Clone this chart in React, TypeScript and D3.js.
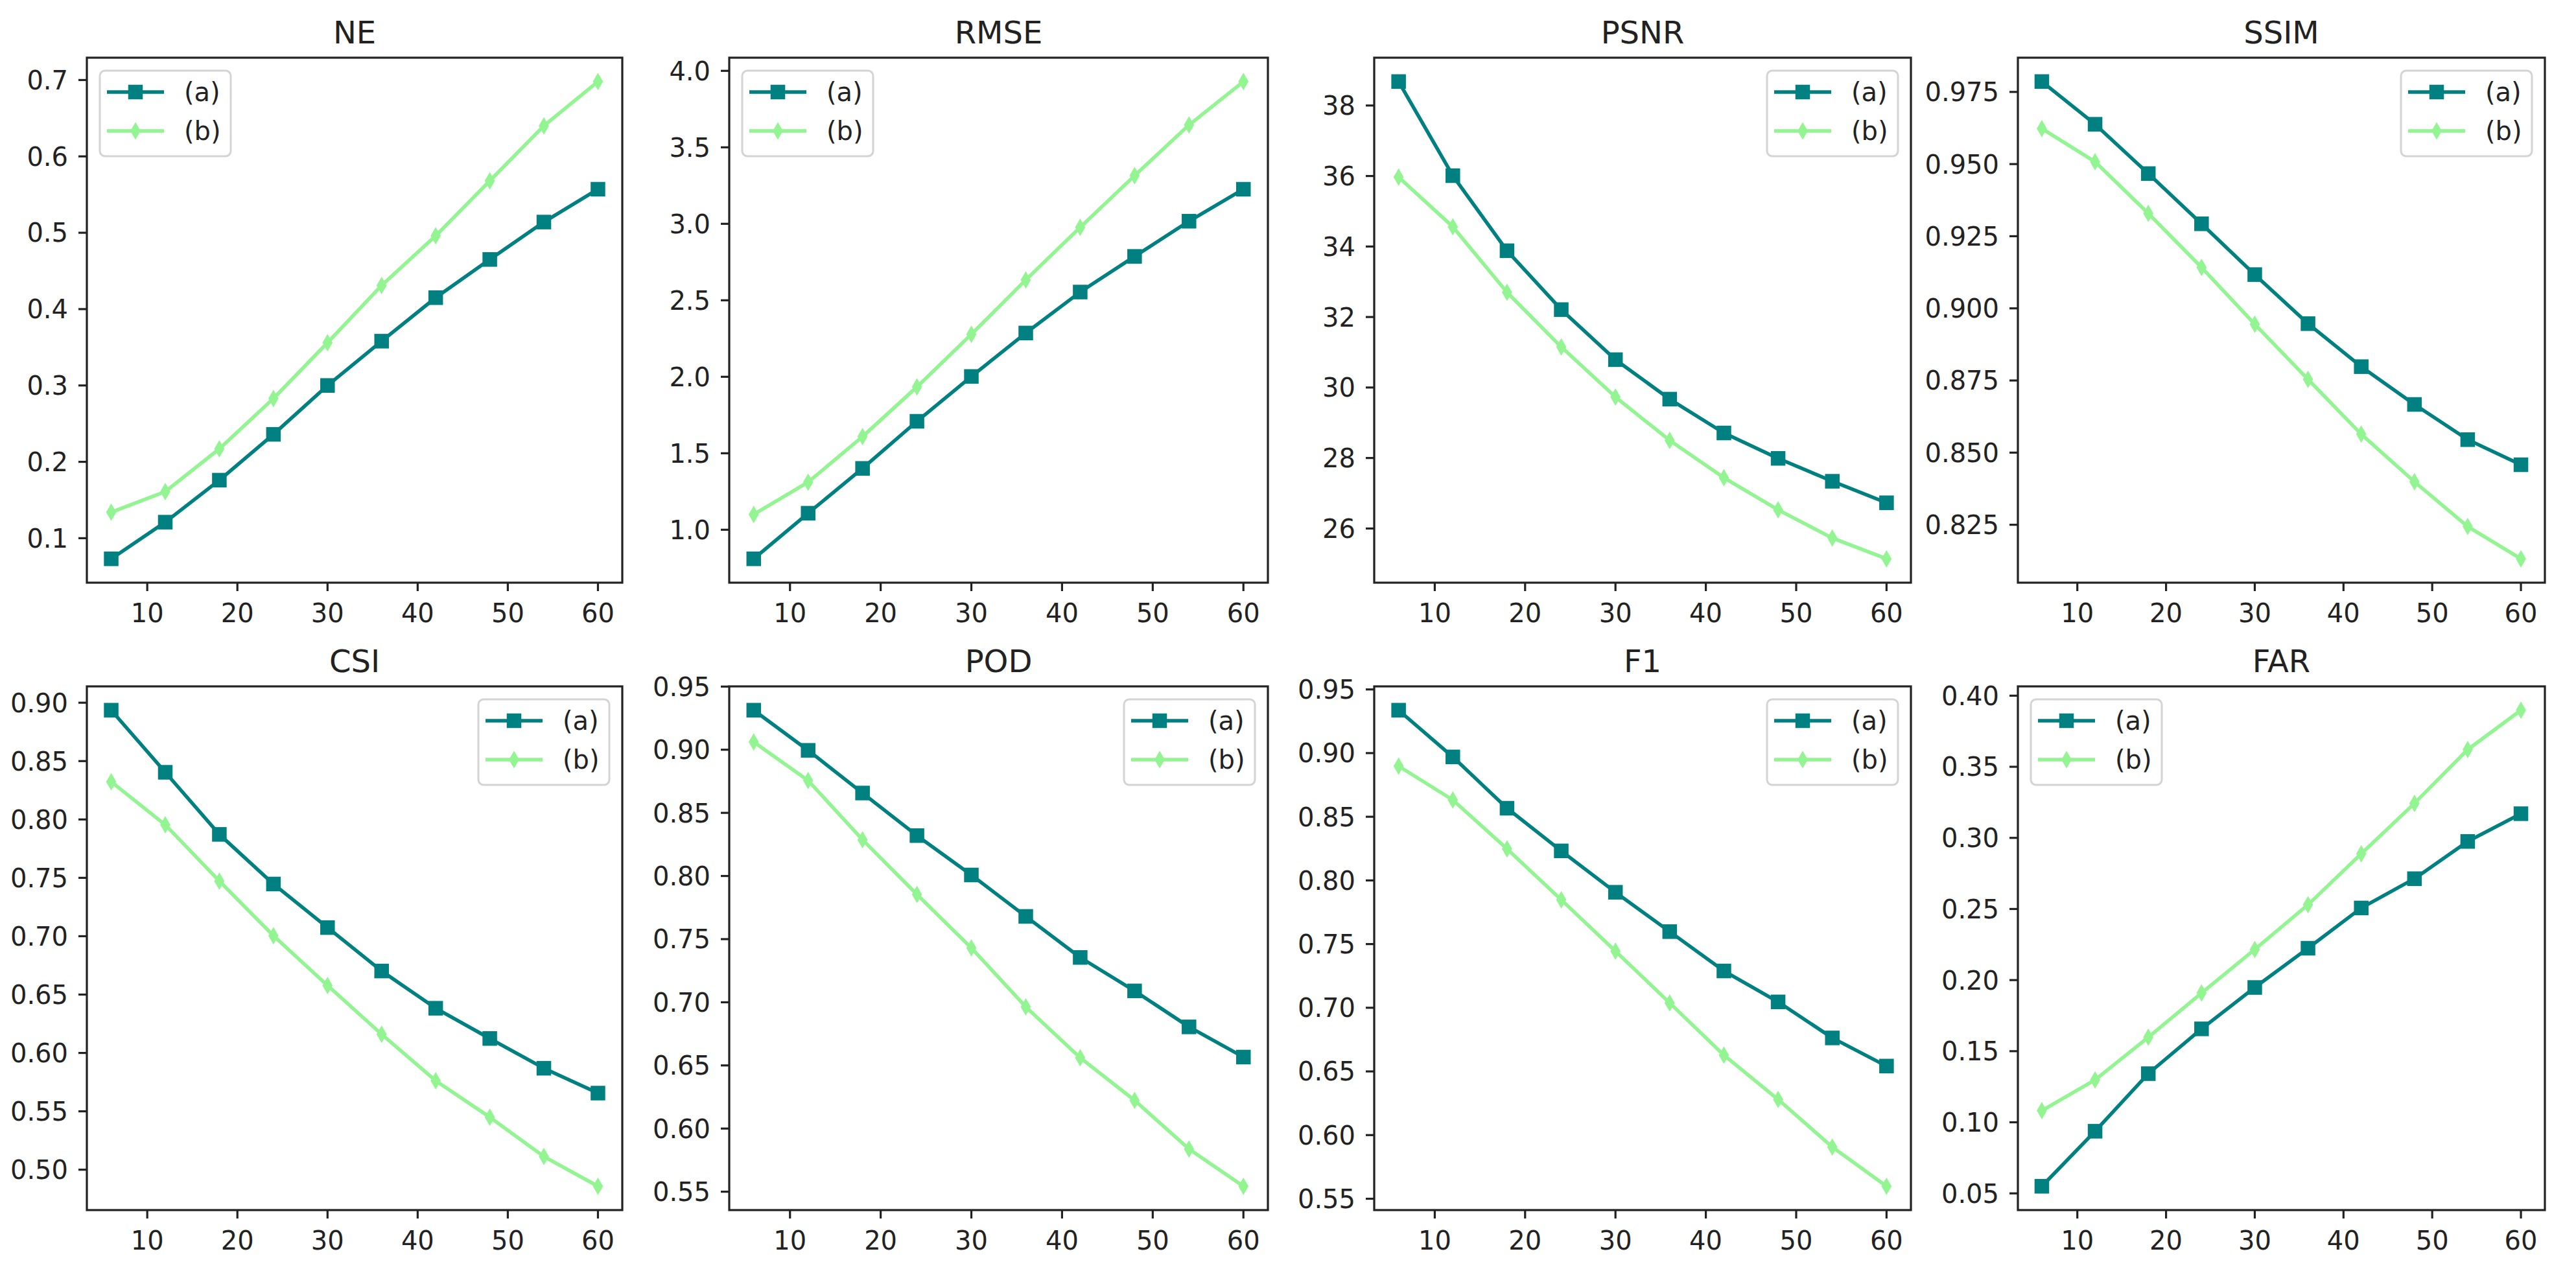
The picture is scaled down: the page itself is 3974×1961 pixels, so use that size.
import * as d3 from "d3";

// lead time (x axis)
const steps = [6, 12, 18, 24, 30, 36, 42, 48, 54, 60];
const xTicks = [10, 20, 30, 40, 50, 60];

const metrics = ["NE", "RMSE", "PSNR", "SSIM", "CSI", "POD", "F1", "FAR"];

const neA = [0.073, 0.121, 0.176, 0.236, 0.300, 0.358, 0.415, 0.465, 0.514, 0.557];
const neB = [0.134, 0.161, 0.217, 0.283, 0.356, 0.431, 0.496, 0.568, 0.640, 0.698];
const rmseA = [0.81, 1.108, 1.401, 1.709, 2.002, 2.286, 2.554, 2.787, 3.017, 3.226];
const rmseB = [1.10, 1.311, 1.609, 1.934, 2.278, 2.633, 2.977, 3.315, 3.646, 3.930];
const psnrA = [38.68, 36.01, 33.88, 32.21, 30.79, 29.67, 28.71, 27.99, 27.34, 26.73];
const psnrB = [35.97, 34.56, 32.70, 31.15, 29.73, 28.50, 27.44, 26.53, 25.73, 25.14];
const ssimA = [0.9786, 0.9638, 0.9467, 0.9293, 0.9117, 0.8947, 0.8798, 0.8667, 0.8545, 0.8458];
const ssimB = [0.9623, 0.9508, 0.9329, 0.9142, 0.8945, 0.8754, 0.8564, 0.8399, 0.8244, 0.8132];
const csiA = [0.8936, 0.8404, 0.7872, 0.7447, 0.7074, 0.6702, 0.6383, 0.6124, 0.5869, 0.5656];
const csiB = [0.8323, 0.7954, 0.7472, 0.7004, 0.6578, 0.6160, 0.5762, 0.5450, 0.5113, 0.4858];
const podA = [0.9313, 0.8995, 0.8657, 0.8320, 0.8008, 0.7680, 0.7355, 0.7090, 0.6805, 0.6566];
const podB = [0.9061, 0.8756, 0.8287, 0.7854, 0.7430, 0.6964, 0.6561, 0.6223, 0.5838, 0.5543];
const f1A = [0.9337, 0.8970, 0.8567, 0.8232, 0.7907, 0.7598, 0.7289, 0.7046, 0.6763, 0.6542];
const f1B = [0.8898, 0.8632, 0.8248, 0.7848, 0.7445, 0.7038, 0.6628, 0.6280, 0.5906, 0.5598];
const farA = [0.0550, 0.0937, 0.1342, 0.1657, 0.1948, 0.2224, 0.2507, 0.2713, 0.2975, 0.3170];
const farB = [0.1082, 0.1298, 0.1598, 0.1909, 0.2215, 0.2530, 0.2888, 0.3243, 0.3621, 0.3898];

const neTicks = [0.1, 0.2, 0.3, 0.4, 0.5, 0.6, 0.7];
const rmseTicks = [1.0, 1.5, 2.0, 2.5, 3.0, 3.5, 4.0];
const psnrTicks = [26, 28, 30, 32, 34, 36, 38];
const ssimTicks = [0.825, 0.85, 0.875, 0.9, 0.925, 0.95, 0.975];
const csiTicks = [0.5, 0.55, 0.6, 0.65, 0.7, 0.75, 0.8, 0.85, 0.9];
const podTicks = [0.55, 0.6, 0.65, 0.7, 0.75, 0.8, 0.85, 0.9, 0.95];
const f1Ticks = [0.55, 0.6, 0.65, 0.7, 0.75, 0.8, 0.85, 0.9, 0.95];
const farTicks = [0.05, 0.1, 0.15, 0.2, 0.25, 0.3, 0.35, 0.4];

const seriesNames = ["(a)", "(b)"];

const valuesA = [neA, rmseA, psnrA, ssimA, csiA, podA, f1A, farA];
const valuesB = [neB, rmseB, psnrB, ssimB, csiB, podB, f1B, farB];
const tickSets = [neTicks, rmseTicks, psnrTicks, ssimTicks, csiTicks, podTicks, f1Ticks, farTicks];
const tickDecimals = [1, 1, 0, 3, 2, 2, 2, 2];
const legendLeft = [true, true, false, false, false, false, false, true];

const W = 3974;
const H = 1961;
const colLeft = [134, 1125, 2120, 3113];
const colRight = [960, 1956, 2948, 3926];
const rowTop = [89, 1059];
const rowBottom = [899, 1867];

const TEAL = "#008080";
const GREEN = "#92F592";
const FONT = "DejaVu Sans, sans-serif";
const TXT = "#222";

function Square({ x, y }: { x: number; y: number }) {
  const s = 21;
  return <rect x={x - s / 2} y={y - s / 2} width={s} height={s} fill={TEAL} stroke={TEAL} strokeWidth={1.5} />;
}

function Diamond({ x, y }: { x: number; y: number }) {
  const h = 12, w = 7;
  return <path d={`M${x},${y - h}L${x + w},${y}L${x},${y + h}L${x - w},${y}Z`} fill={GREEN} stroke={GREEN} strokeWidth={1.5} />;
}

function Panel({ idx }: { idx: number }) {
  const col = idx % 4;
  const row = Math.floor(idx / 4);
  const left = colLeft[col], right = colRight[col];
  const top = rowTop[row], bottom = rowBottom[row];
  const a = valuesA[idx], b = valuesB[idx];

  const xPad = (d3.max(steps)! - d3.min(steps)!) * 0.05;
  const x = d3.scaleLinear().domain([d3.min(steps)! - xPad, d3.max(steps)! + xPad]).range([left, right]);
  const lo = Math.min(d3.min(a)!, d3.min(b)!);
  const hi = Math.max(d3.max(a)!, d3.max(b)!);
  const yPad = (hi - lo) * 0.05;
  const y = d3.scaleLinear().domain([lo - yPad, hi + yPad]).range([bottom, top]);

  const line = d3.line<number>().x((_, i) => x(steps[i])).y((d) => y(d));
  const fmt = d3.format(`.${tickDecimals[idx]}f`);

  const lgW = 202, lgH = 132;
  const lgX = legendLeft[idx] ? left + 20 : right - 20 - lgW;
  const lgY = top + 20;

  return (
    <g>
      <text x={(left + right) / 2} y={top - 22} textAnchor="middle" fontSize={48} fontFamily={FONT} fill={TXT}>
        {metrics[idx]}
      </text>
      {/* lines */}
      <path d={line(a)!} fill="none" stroke={TEAL} strokeWidth={5.5} strokeLinejoin="round" />
      {a.map((v, i) => <Square key={"a" + i} x={x(steps[i])} y={y(v)} />)}
      <path d={line(b)!} fill="none" stroke={GREEN} strokeWidth={5.5} strokeLinejoin="round" />
      {b.map((v, i) => <Diamond key={"b" + i} x={x(steps[i])} y={y(v)} />)}
      {/* frame */}
      <rect x={left} y={top} width={right - left} height={bottom - top} fill="none" stroke="#222" strokeWidth={3.2} />
      {/* x ticks */}
      {xTicks.map((t) => (
        <g key={"x" + t}>
          <line x1={x(t)} x2={x(t)} y1={bottom} y2={bottom + 13} stroke="#222" strokeWidth={3.2} />
          <text x={x(t)} y={bottom + 61} textAnchor="middle" fontSize={40} fontFamily={FONT} fill={TXT}>{t}</text>
        </g>
      ))}
      {/* y ticks */}
      {tickSets[idx].map((t) => (
        <g key={"y" + t}>
          <line x1={left - 13} x2={left} y1={y(t)} y2={y(t)} stroke="#222" strokeWidth={3.2} />
          <text x={left - 29} y={y(t)} dy="0.36em" textAnchor="end" fontSize={40} fontFamily={FONT} fill={TXT}>{fmt(t)}</text>
        </g>
      ))}
      {/* legend */}
      <g>
        <rect x={lgX} y={lgY} width={lgW} height={lgH} rx={8} fill="white" fillOpacity={0.8} stroke="#d4d4d4" strokeWidth={3} />
        <line x1={lgX + 11} x2={lgX + 99} y1={lgY + 33} y2={lgY + 33} stroke={TEAL} strokeWidth={5.5} />
        <Square x={lgX + 55} y={lgY + 33} />
        <text x={lgX + 130} y={lgY + 33} dy="0.36em" fontSize={40} fontFamily={FONT} fill={TXT}>{seriesNames[0]}</text>
        <line x1={lgX + 11} x2={lgX + 99} y1={lgY + 93} y2={lgY + 93} stroke={GREEN} strokeWidth={5.5} />
        <Diamond x={lgX + 55} y={lgY + 93} />
        <text x={lgX + 130} y={lgY + 93} dy="0.36em" fontSize={40} fontFamily={FONT} fill={TXT}>{seriesNames[1]}</text>
      </g>
    </g>
  );
}

export default function App() {
  return (
    <svg width={W} height={H} style={{ position: "absolute", left: 0, top: 0, background: "white" }}>
      <rect width={W} height={H} fill="white" />
      {metrics.map((_, i) => <Panel key={i} idx={i} />)}
    </svg>
  );
}
